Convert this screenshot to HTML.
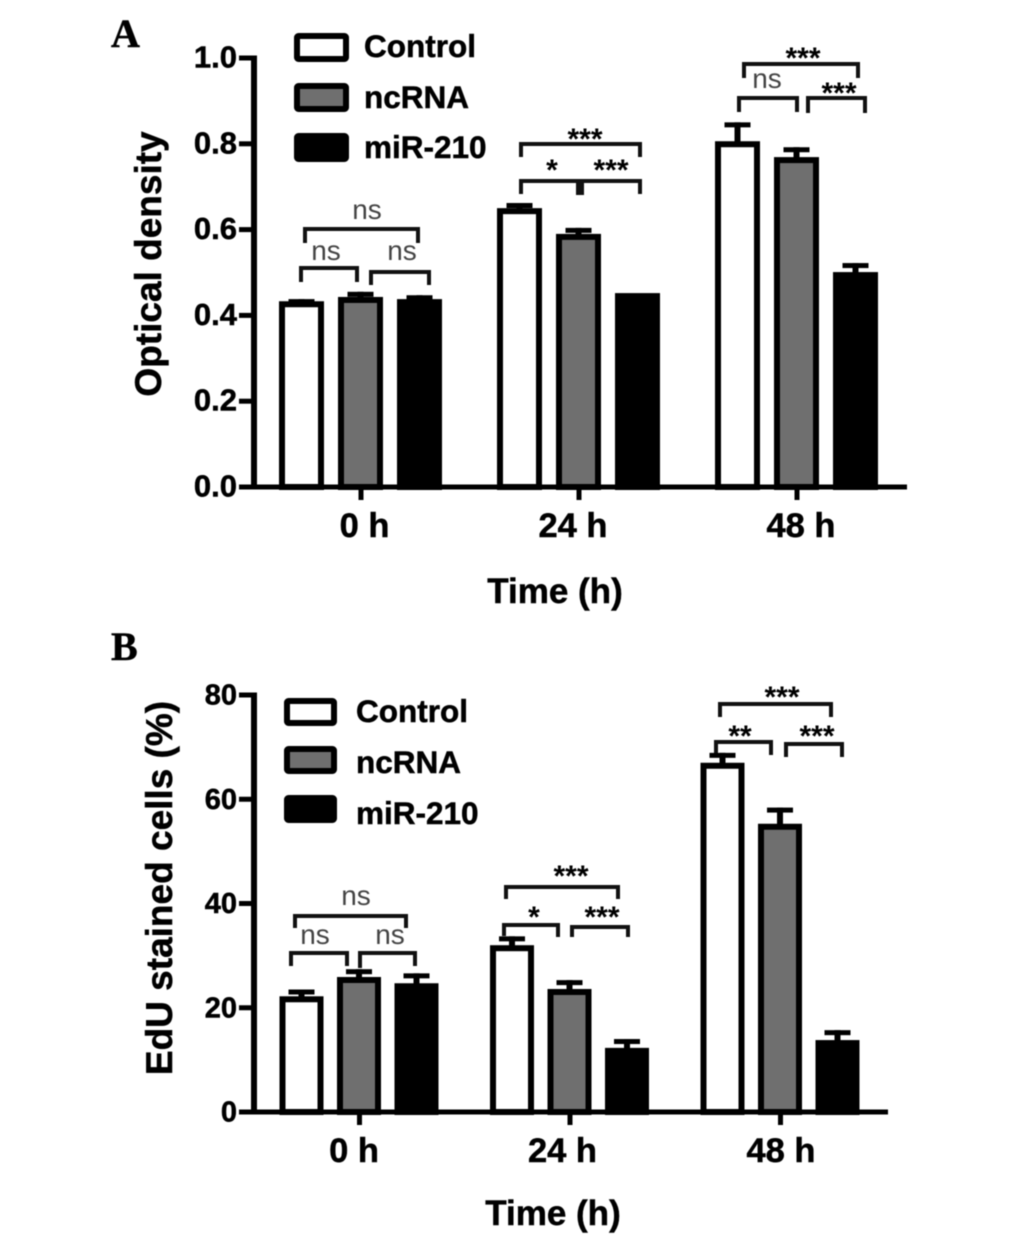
<!DOCTYPE html>
<html lang="en">
<head>
<meta charset="utf-8">
<title>Optical density and EdU staining bar charts</title>
<style>
  html, body { margin: 0; padding: 0; background: #fff; }
  body { width: 1033px; height: 1243px; overflow: hidden; }
  svg { display: block; filter: blur(0.45px); }
  text { font-family: "Liberation Sans", sans-serif; font-weight: bold; fill: #000; stroke: #000; stroke-width: 0.5px; }
</style>
</head>
<body>
<svg id="figure" xmlns="http://www.w3.org/2000/svg" width="1033" height="1243" viewBox="0 0 1033 1243"></svg>
<script>
// ---- Shared categories ----
const timeLabels = ['0 h', '24 h', '48 h'];
const seriesNames = ['Control', 'ncRNA', 'miR-210'];
const seriesFills = ['#ffffff', '#6f6f6f', '#000000'];

// ---- Panel A: optical density (rows are series, columns are time points) ----
const odControl = [0.433, 0.650, 0.806];
const odNcrna = [0.443, 0.590, 0.769];
const odMir210 = [0.438, 0.452, 0.501];
const odControlErr = [0.005, 0.012, 0.044];
const odNcrnaErr = [0.012, 0.014, 0.023];
const odMir210Err = [0.009, 0.000, 0.021];
const odTicks = [0, 0.2, 0.4, 0.6, 0.8, 1.0];
const odTickLabels = ['0.0', '0.2', '0.4', '0.6', '0.8', '1.0'];

// ---- Panel B: EdU stained cells (%) ----
const eduControl = [22.2, 32.0, 67.0];
const eduNcrna = [25.9, 23.6, 55.3];
const eduMir210 = [24.7, 12.3, 13.8];
const eduControlErr = [1.3, 1.7, 1.9];
const eduNcrnaErr = [1.5, 1.7, 3.1];
const eduMir210Err = [1.9, 1.7, 1.9];
const eduTicks = [0, 20, 40, 60, 80];
const eduTickLabels = ['0', '20', '40', '60', '80'];

const NS = 'http://www.w3.org/2000/svg';
const root = document.getElementById('figure');

function make(tag, attrs, parent) {
  const node = document.createElementNS(NS, tag);
  for (const key in attrs) node.setAttribute(key, attrs[key]);
  parent.appendChild(node);
  return node;
}

function drawPanel(p) {
  const panel = make('g', {}, root);
  
  

  const yScale = v => p.y0 - (v / p.yMax) * (p.y0 - p.yTop);
  const xScale = (group, series) => p.x0 + group * p.groupStep + (series - 1) * p.barStep;

  // bars and error bars
  p.values.forEach((seriesValues, s) => {
    seriesValues.forEach((value, g) => {
      const cx = xScale(g, s);
      const top = yScale(value);
      const errTop = yScale(value + p.errors[s][g]);

      const bar = make('rect', {
        x: cx - p.barW / 2 + 3, y: top + 3,
        width: p.barW - 6, height: p.y0 - top - 3,
        fill: seriesFills[s], stroke: '#000', 'stroke-width': 6
      }, panel);
      
      

      if (p.errors[s][g] > 0) {
        const stem = make('rect', {
          x: cx - 3, y: errTop, width: 6, height: top - errTop + 1, fill: '#000'
        }, panel);
        
        

        const cap = make('rect', {
          x: cx - 13, y: errTop, width: 26, height: 5, fill: '#000'
        }, panel);
        
        
      }
    });
  });

  // y axis
  const yAxis = make('rect', {
    x: p.axisX - 3, y: p.yTop - 2.5, width: 6, height: p.y0 - p.yTop + 5, fill: '#000'
  }, panel);
  
  

  p.ticks.forEach((tick, i) => {
    const ty = yScale(tick);
    const mark = make('rect', { x: p.axisX - 15, y: ty - 2.5, width: 15, height: 5, fill: '#000' }, panel);
    
    

    const label = make('text', {
      x: 237, y: ty + 9.5, 'text-anchor': 'end', 'font-size': p.tickFont
    }, panel);
    label.textContent = p.tickLabels[i];
    
    
  });

  // x axis
  const xAxis = make('rect', {
    x: p.axisX - 15, y: p.y0 - 2.5, width: p.xEnd - p.axisX + 15, height: 5, fill: '#000'
  }, panel);
  
  

  timeLabels.forEach((label, g) => {
    const cx = xScale(g, 1);
    const mark = make('rect', { x: cx - 2, y: p.y0, width: 5, height: 13, fill: '#000' }, panel);
    
    

    const text = make('text', {
      x: cx + p.xLabelShifts[g], y: p.xLabelY, 'text-anchor': 'middle', 'font-size': 34.5
    }, panel);
    text.textContent = label;
    
    
  });

  // axis titles
  const xTitle = make('text', {
    x: p.xTitleX, y: p.xTitleY, 'text-anchor': 'middle', 'font-size': 35
  }, panel);
  xTitle.textContent = 'Time (h)';
  
  

  const yTitle = make('text', {
    transform: 'translate(' + p.yTitleX + ' ' + p.yTitleY + ') rotate(-90)',
    'text-anchor': 'middle', 'font-size': 37
  }, panel);
  yTitle.textContent = p.yTitle;
  
  

  // panel letter
  const letter = make('text', {
    x: 111, y: p.letterY, 'font-size': 40,
    style: 'font-family:"Liberation Serif",serif;font-weight:bold'
  }, panel);
  letter.textContent = p.letter;
  
  

  // legend
  seriesNames.forEach((name, s) => {
    const entry = make('g', {}, panel);
    
    

    const top = p.legendTops[s];
    const swatch = make('rect', {
      x: p.legendX + 3, y: top + 3,
      width: p.legendW - 6, height: p.legendH - 6,
      fill: seriesFills[s], stroke: '#000', 'stroke-width': 6, rx: 1.5
    }, entry);
    
    

    const text = make('text', {
      x: p.legendTextX, y: p.legendBaselines[s], 'font-size': 31.5
    }, entry);
    text.textContent = name;
    
    
  });

  return panel;
}

// Significance annotation: bracket plus its label
function bracket(panel, x1, x2, y, legL, legR, label, labelX, labelY) {
  const line = make('path', {
    d: 'M' + x1 + ' ' + legL + 'V' + y + 'H' + x2 + 'V' + legR,
    fill: 'none', stroke: '#111', 'stroke-width': 4
  }, panel);
  
  

  const isNs = label === 'ns';
  const text = make('text', {
    x: labelX, y: labelY, 'text-anchor': 'middle',
    'font-size': isNs ? 28 : 30,
    style: isNs ? 'font-weight:normal;fill:#444;stroke:none' : 'font-weight:bold;stroke:none'
  }, panel);
  text.textContent = label;
  
  
}

const panelA = drawPanel({
  name: 'panel-a-optical-density', letter: 'A', letterY: 47,
  values: [odControl, odNcrna, odMir210],
  errors: [odControlErr, odNcrnaErr, odMir210Err],
  ticks: odTicks, tickLabels: odTickLabels, tickFont: 31,
  yMax: 1.0, yTop: 58, y0: 487, axisX: 254, xEnd: 907,
  x0: 360.5, groupStep: 218, barStep: 59, barW: 45,
  xLabelShifts: [4, -5.5, 4.5], xLabelY: 537, xTitleX: 555, xTitleY: 603,
  yTitle: 'Optical density', yTitleX: 161, yTitleY: 264,
  legendX: 294, legendW: 55, legendH: 29, legendTops: [33, 83, 133],
  legendTextX: 364, legendBaselines: [57, 108, 158]
});

bracket(panelA, 305, 418, 229, 243, 243, 'ns', 367, 219);
bracket(panelA, 301, 357, 268, 282, 282, 'ns', 326, 260);
bracket(panelA, 371, 429, 272, 285, 285, 'ns', 402, 260);
bracket(panelA, 521, 640, 144, 157, 157, '***', 585, 149);
bracket(panelA, 521, 580, 181, 194, 194, '*', 552, 180);
bracket(panelA, 580, 640, 181, 194, 194, '***', 611, 180);
const junction = make('rect', { x: 576, y: 183, width: 8, height: 12, fill: '#111' }, panelA);


bracket(panelA, 744, 858, 64, 78, 78, '***', 803, 68);
bracket(panelA, 739, 797, 98, 112, 112, 'ns', 767, 88);
bracket(panelA, 808, 865, 98, 113, 113, '***', 839, 103);

const panelB = drawPanel({
  name: 'panel-b-edu-stained-cells', letter: 'B', letterY: 660,
  values: [eduControl, eduNcrna, eduMir210],
  errors: [eduControlErr, eduNcrnaErr, eduMir210Err],
  ticks: eduTicks, tickLabels: eduTickLabels, tickFont: 29,
  yMax: 80, yTop: 695, y0: 1112, axisX: 254, xEnd: 888,
  x0: 359, groupStep: 210.5, barStep: 57.5, barW: 44,
  xLabelShifts: [-5, -7, 1], xLabelY: 1162, xTitleX: 553, xTitleY: 1225,
  yTitle: 'EdU stained cells (%)', yTitleX: 172, yTitleY: 888,
  legendX: 284, legendW: 53, legendH: 28, legendTops: [698, 746, 795],
  legendTextX: 356, legendBaselines: [722, 773, 824]
});

bracket(panelB, 295, 406, 916, 928, 928, 'ns', 356, 905);
bracket(panelB, 291, 347, 953, 966, 966, 'ns', 315, 944);
bracket(panelB, 360, 415, 953, 968, 966, 'ns', 390, 944);
bracket(panelB, 506, 618, 887, 899, 899, '***', 571, 886);
bracket(panelB, 504, 558, 925, 936, 937, '*', 534, 927);
bracket(panelB, 572, 628, 927, 937, 937, '***', 602, 927);
bracket(panelB, 720, 831, 704, 717, 717, '***', 782, 707);
bracket(panelB, 716, 771, 742, 753, 755, '**', 740, 746);
bracket(panelB, 786, 842, 744, 757, 757, '***', 817, 746);
</script>
</body>
</html>
